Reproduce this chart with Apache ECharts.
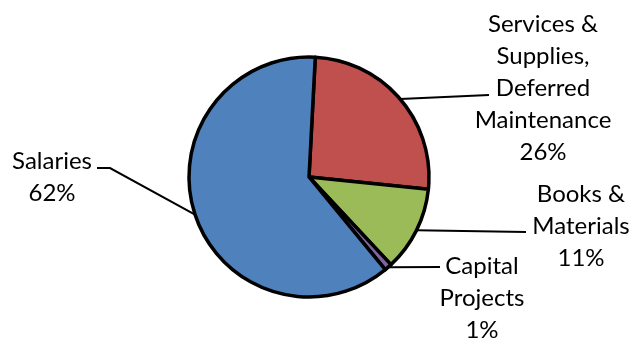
<!DOCTYPE html>
<html>
<head>
<meta charset="utf-8">
<script src="https://cdn.jsdelivr.net/npm/echarts@6/dist/echarts.min.js"></script>
<style>
  html, body { margin: 0; padding: 0; background: #fff; }
  #chart { width: 633px; height: 341px; }
</style>
</head>
<body>
<div id="chart"></div>
<script>
const categories = ['Services &\nSupplies,\nDeferred\nMaintenance', 'Books &\nMaterials', 'Capital\nProjects', 'Salaries']
const shares = [25.8, 11.4, 1.0, 61.8]
const colors = ['#C0504D', '#9BBB59', '#8064A2', '#4F81BD']

// where each label block sits and where its leader line ends (px)
const labelSpots = [
  { x: 543, y: 88, line: [[489, 95]] },
  { x: 581, y: 226, line: [[526, 232]] },
  { x: 482, y: 298, line: [[440, 267]] },
  { x: 52, y: 177, line: [[110, 168], [97, 168]] }
]

const chart = echarts.init(document.getElementById('chart'))

chart.setOption({
  animation: false,
  series: [{
    type: 'pie',
    center: [309, 177],
    radius: 120,
    startAngle: 87,
    clockwise: true,
    percentPrecision: 0,
    avoidLabelOverlap: false,
    data: categories.map((name, i) => ({
      name: name,
      value: shares[i],
      itemStyle: { color: colors[i] }
    })),
    itemStyle: {
      borderColor: '#000',
      borderWidth: 3.5
    },
    label: {
      show: true,
      position: 'outside',
      formatter: '{b}\n{d}%',
      fontFamily: 'Lato',
      fontSize: 24,
      lineHeight: 32,
      color: '#000'
    },
    labelLine: {
      show: true,
      length: 10,
      length2: 10,
      lineStyle: { color: '#000', width: 2 }
    },
    labelLayout: function(params) {
      const s = labelSpots[params.dataIndex]
      const out = { x: s.x, y: s.y, align: 'center', verticalAlign: 'middle' }
      if (params.labelLinePoints) {
        out.labelLinePoints = [params.labelLinePoints[0]].concat(s.line)
      }
      return out
    },
    emphasis: { disabled: true }
  }]
})
</script>
</body>
</html>
